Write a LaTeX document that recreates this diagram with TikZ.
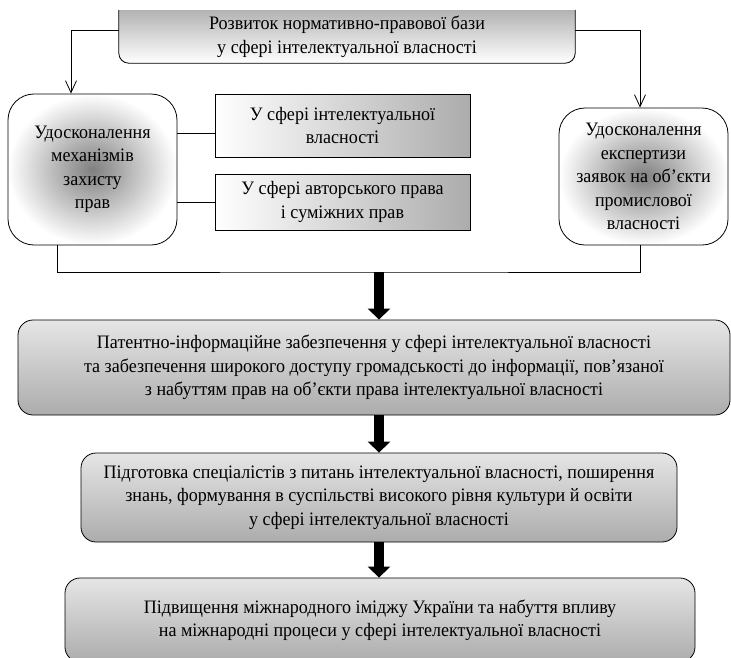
\documentclass[tikz,border=0pt]{standalone}
\usepackage{fontspec}
\setmainfont{Liberation Serif}[FakeStretch=0.95]
\usetikzlibrary{arrows.meta,calc}
\begin{document}
\begin{tikzpicture}[x=1pt,y=-1pt,
  txt/.style={font=\fontsize{19}{23.5}\selectfont, align=center, inner sep=0pt},
  thin/.style={line width=0.8pt},
  topbox/.style={txt, top color=gray!60, bottom color=white, minimum width=456pt, minimum height=53pt},
  roundbox/.style={txt, thin, draw, rounded corners=26pt, shading=radial, inner color=gray, outer color=white},
  midbox/.style={txt, thin, draw, left color=white, right color=gray!65, minimum width=255pt},
  wide/.style={txt, thin, draw, rounded corners=15pt, top color=gray!20, middle color=gray!4, bottom color=gray!65},
  thinarrow/.style={thin, -{Straight Barb[length=12pt,width=11pt]}},
  fatarrow/.style={line width=10pt, -{Triangle[length=11pt,width=22pt]}}
]
\useasboundingbox[fill=white] (0,0) rectangle (731,657);

\node[topbox] (top) at (347,36.5) {Розвиток нормативно-правової бази\\у сфері інтелектуальної власності};
\draw[thin, rounded corners=10pt] (top.north west) -- (top.south west) -- (top.south east) -- (top.north east);

\node[roundbox, minimum width=169pt, minimum height=151pt] (lbox) at (92.5,169.5) {Удосконалення\\механізмів\\захисту\\прав};
\node[roundbox, minimum width=169pt, minimum height=137pt] (rbox) at (643.5,176.5) {Удосконалення\\експертизи\\заявок на об’єкти\\промислової\\власності};

\node[midbox, minimum height=63pt] (mid1) at (342.5,125.5) {У сфері інтелектуальної\\власності};
\node[midbox, minimum height=56pt] (mid2) at (342.5,202) {У сфері авторського права\\і суміжних прав};

\node[wide, minimum width=712pt, minimum height=95pt] (box3) at (374,367.5) {Патентно-інформаційне забезпечення у сфері інтелектуальної власності\\та забезпечення широкого доступу громадськості до інформації, пов’язаної\\з набуттям прав на об’єкти права інтелектуальної власності};
\node[wide, minimum width=596pt, minimum height=89pt] (box4) at (379,497.5) {Підготовка спеціалістів з питань інтелектуальної власності, поширення\\знань, формування в суспільстві високого рівня культури й освіти\\у сфері інтелектуальної власності};
\node[wide, minimum width=630pt, minimum height=84pt] (box5) at (380,620) {Підвищення міжнародного іміджу України та набуття впливу\\на міжнародні процеси у сфері інтелектуальної власності};

% arrows from top box
\coordinate (la) at ($(top.west)+(0,-6)$);
\coordinate (ra) at ($(top.east)+(0,-6)$);
\draw[thinarrow] (la) -| ($(lbox.north)+(-21.5,0)$);
\draw[thinarrow] (ra) -| ($(rbox.north)+(-3.5,0)$);

% connectors to middle boxes
\coordinate (m1) at ($(mid1.west)+(0,7.5)$);
\draw[thin] (m1 -| lbox.east) -- (m1);
\draw[thin] (mid2.west -| lbox.east) -- (mid2.west);

% bracket
\coordinate (bar) at (379,272);
\draw[thin] ($(lbox.south)+(-35.5,0)$) |- (bar) -| ($(rbox.south)+(-3.5,0)$);

% thick arrows
\draw[fatarrow] (bar) -- (bar |- box3.north);
\draw[fatarrow] (bar |- box3.south) -- (bar |- box4.north);
\draw[fatarrow] (bar |- box4.south) -- (bar |- box5.north);
\end{tikzpicture}
\end{document}
